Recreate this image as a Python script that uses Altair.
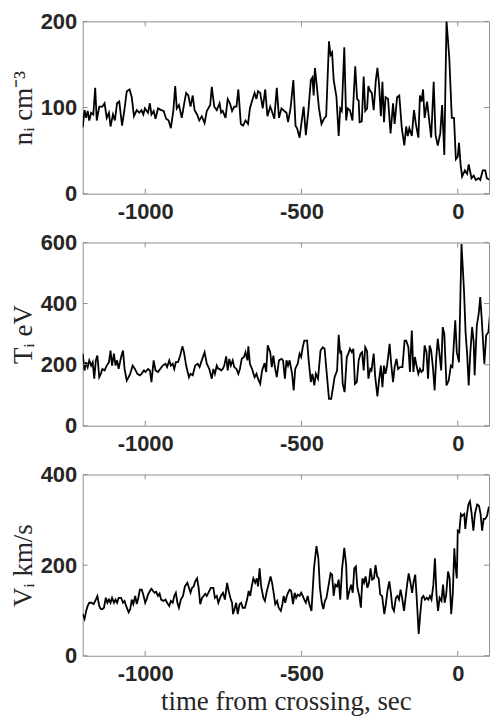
import altair as alt
import pandas as pd

# ---------------- data ----------------
t_n = [-1200,-1194,-1189,-1184,-1179,-1173,-1166,-1160,-1155,-1147,-1137,-1130,-1123,-1116,-1111,-1103,-1097,-1090,-1083,-1074,
       -1067,-1059,-1050,-1043,-1036,-1027,-1019,-1012,-1006,-1001,-991,-985,-980,-973,-967,-959,-949,-941,-933,-925,
       -918,-910,-904,-899,-892,-883,-876,-869,-862,-855,-848,-842,-834,-827,-819,-810,-803,-792,-787,-779,-771,
       -762,-757,-752,-743,-736,-729,-722,-715,-708,-702,-694,-687,-679,-671,-665,-658,-650,-644,-639,-632,
       -624,-616,-609,-600,-595,-587,-579,-572,-564,-555,-548,-543,-535,-526,-519,-514,-506,-499,-493,-486,
       -478,-470,-465,-461,-457,-451,-444,-436,-428,-421,-412,-407,-402,-397,-388,-381,-376,-371,-363,-357,-352,-345,
       -337,-328,-322,-317,-314,-307,-301,-296,-290,-286,-280,-275,-269,-262,-257,-252,-246,-241,-236,-231,
       -223,-215,-207,-202,-194,-187,-179,-171,-165,-160,-155,-147,-140,-134,-126,-121,-116,-111,-106,-98,
       -92,-85,-77,-71,-64,-56,-50,-43,-36,-27,-19,-12,-6,0,4,9,14,23,30,35,44,51,58,67,72,80,88,93,103]
n_i = [77,97,88,96,85,94,92,123,85,101,101,105,88,94,78,92,85,105,107,79,
       96,119,121,112,90,97,94,97,92,99,94,105,92,96,87,99,97,96,87,85,
       76,96,125,99,103,88,103,117,114,101,114,97,92,85,90,82,96,103,124,101,97,
       105,94,96,88,110,105,96,101,101,121,81,79,85,81,99,108,117,110,119,117,
       99,121,90,101,96,87,123,88,99,96,94,83,99,132,79,76,65,85,101,68,
       96,132,135,114,146,125,99,81,87,90,177,161,164,132,112,67,99,96,170,85,99,97,
       85,148,110,108,83,84,136,96,99,125,119,117,97,132,146,128,90,130,83,112,
       110,70,105,81,112,114,76,56,78,67,76,67,97,81,65,114,107,121,88,107,
       87,65,130,68,56,70,103,45,201,157,88,88,40,43,59,34,20,27,23,34,18,21,16,18,16,27,27,18,16]

t_T = [-1200,-1194,-1189,-1184,-1179,-1173,-1168,-1163,-1158,-1153,-1147,-1142,-1137,-1130,-1123,-1116,-1111,-1106,-1100,-1095,
       -1090,-1085,-1077,-1071,-1066,-1059,-1053,-1048,-1040,-1033,-1025,-1017,-1012,-1004,-999,-991,-985,-980,-973,-967,
       -959,-952,-944,-935,-930,-923,-918,-912,-907,-902,-895,-888,-881,-876,-869,-860,-855,-848,-840,-832,
       -826,-819,-810,-803,-795,-787,-782,-777,-771,-766,
       -762,-757,-752,-747,-741,-736,-731,-726,-720,-715,-708,-702,-697,-691,-684,-679,-673,-670,-665,-658,
       -650,-644,-639,-632,-626,-618,-613,-608,-600,-595,-590,-585,-579,-572,-564,-559,-553,-548,-543,-538,
       -530,-525,-520,-512,-506,-501,-496,-491,-482,-477,-470,-465,-459,-454,-447,-439,-432,-426,-420,-412,
       -405,-399,-394,-386,-381,-376,-373,-368,-362,-355,-350,-345,-339,-334,-329,
       -323,-317,-311,-306,-301,-296,-290,-286,-280,-276,-269,-264,-257,-252,-246,-241,-236,-231,-226,-218,
       -213,-207,-202,-196,-191,-184,-177,-170,-165,-158,-153,-147,-142,-137,-132,-126,-121,-116,-111,-106,
       -100,-95,-90,-85,-79,-74,-69,-64,-59,-53,-48,-43,-36,-29,-22,-17,-8,-3,4,12,
       20,25,30,35,40,46,51,54,61,67,72,77,85,91,98,103]
T_i = [236,181,208,192,214,197,208,154,214,230,159,170,186,181,197,208,246,197,236,197,
       214,186,225,246,186,148,159,170,197,186,170,165,170,181,176,186,181,143,214,181,
       176,186,197,203,192,214,197,203,186,208,208,230,260,241,197,159,170,165,197,203,
       192,214,241,203,186,154,186,170,197,186,
       186,181,186,197,227,181,219,197,214,192,186,170,186,219,225,241,214,260,203,186,
       159,170,154,137,181,205,176,263,241,192,230,192,159,214,219,214,154,214,197,214,
       170,116,186,203,236,225,257,279,279,214,143,170,132,170,154,246,257,252,181,88,
       88,126,159,181,298,236,246,137,110,225,236,252,241,252,137,
       143,214,236,241,181,257,244,154,186,181,236,159,96,148,197,126,197,170,197,268,
       203,143,192,219,186,192,192,279,279,257,176,312,176,225,197,170,186,176,181,263,
       241,154,263,246,186,116,219,285,241,181,323,301,132,148,197,192,345,241,208,595,
       443,306,236,132,236,323,274,165,328,366,421,345,203,296,306,366]

t_V = [-1200,-1194,-1189,-1184,-1179,-1171,-1165,-1158,-1153,-1147,-1142,-1137,-1132,-1126,-1121,-1116,-1111,-1106,-1100,-1095,
       -1090,-1085,-1077,-1071,-1066,-1061,-1053,-1048,-1043,-1038,-1032,-1027,-1022,-1017,-1011,-1006,-1000,-996,-991,-985,
       -980,-975,-970,-965,-959,-954,-949,-942,-935,-930,-923,-918,-912,-907,-902,-897,-892,-886,-879,-873,
       -865,-860,-855,-850,-845,-840,-834,-829,-824,-818,-813,-808,-803,-798,-790,-782,-777,-771,-766,-758,
       -751,-745,-738,-733,-726,-722,-719,-714,-709,-704,-698,-693,-688,-681,-674,-669,-664,-660,-654,-648,
       -643,-639,-634,-629,-622,-617,-612,-604,-599,-594,-589,-584,-578,-573,-566,-561,-557,-552,-547,
       -543,-538,-533,-527,-522,-517,-512,-506,-501,-496,-491,-486,-480,-475,-468,-460,-452,-446,-441,-435,
       -430,-425,-420,-412,-407,-402,-397,-392,-386,-381,-376,-370,-363,-357,-353,-347,-341,-336,-331,-326,
       -321,-315,-310,-305,-300,-295,-289,-284,-279,-274,-268,-263,-258,-253,-248,-242,-235,-230,-225,-219,
       -214,-209,-204,-198,-193,-188,-183,-178,-172,-167,-162,-157,-152,-146,-141,-136,-131,-125,-120,-115,
       -110,-105,-99,-94,-89,-84,-78,-73,-68,-63,-58,-52,-47,-42,-37,-31,-26,-21,-16,-11,
       -8,-3,0,5,10,15,21,24,29,34,39,44,50,55,62,68,73,78,83,88,94,99,104]
V_i = [92,81,99,110,117,117,114,124,132,110,103,103,106,128,117,124,117,128,117,124,
       117,128,128,117,121,110,96,103,124,114,132,114,128,146,146,135,117,124,135,143,
       148,143,139,141,132,137,124,121,124,117,110,121,117,132,139,117,106,124,132,153,
       161,150,139,150,153,164,171,150,114,128,132,137,132,139,150,150,128,132,117,132,
       139,124,161,143,124,117,92,103,117,92,114,117,106,106,124,143,132,150,171,161,
       171,153,193,153,128,121,139,161,175,161,139,114,121,106,99,114,132,117,132,
       139,146,143,114,139,128,135,132,139,132,124,117,132,114,99,193,242,215,150,117,
       103,121,128,161,182,179,132,157,153,168,124,193,238,200,124,143,157,139,193,197,
       150,132,106,171,161,175,150,161,193,168,171,200,175,171,135,132,92,114,143,164,
       139,106,99,128,132,124,146,128,99,128,157,182,164,139,164,179,124,48,92,128,
       132,124,128,124,132,124,157,215,135,99,128,121,157,117,135,186,171,92,135,237,
       204,171,276,273,313,309,313,280,309,334,341,316,276,313,334,331,313,276,302,302,309,327,331]

x_ticks = [-1000, -500, 0]
n_ticks = [0, 100, 200]
T_ticks = [0, 200, 400, 600]
V_ticks = [0, 200, 400]

# ---------------- styling ----------------
W = 408
FRAME = "#8f8f8f"
INK = "#262626"
SANS = "Liberation Sans"
SERIF = "Liberation Serif"


def panel(times, vals, ymax, yticks, ytitle, h, xtitle=None):
    df = pd.DataFrame({"t": times, "v": vals})
    xs = alt.Scale(domain=[-1200, 100], nice=False, zero=False)
    ys = alt.Scale(domain=[0, ymax], nice=False)
    xaxis = alt.Axis(values=x_ticks, labelExpr="'' + datum.value", title=xtitle)
    line = alt.Chart(df).mark_line(color="black", strokeWidth=1.8, clip=True).encode(
        x=alt.X("t:Q", scale=xs, axis=xaxis),
        y=alt.Y("v:Q", scale=ys, axis=alt.Axis(values=yticks, title=ytitle)),
    )
    xt = pd.DataFrame({"t": x_ticks})
    yt = pd.DataFrame({"v": yticks})
    bt = alt.Chart(xt).mark_rule(color=FRAME, strokeWidth=1).encode(
        x="t:Q", y=alt.value(h), y2=alt.value(h - 5))
    tt = alt.Chart(xt).mark_rule(color=FRAME, strokeWidth=1).encode(
        x="t:Q", y=alt.value(0), y2=alt.value(5))
    lt = alt.Chart(yt).mark_rule(color=FRAME, strokeWidth=1).encode(
        y="v:Q", x=alt.value(0), x2=alt.value(5))
    rt = alt.Chart(yt).mark_rule(color=FRAME, strokeWidth=1).encode(
        y="v:Q", x=alt.value(W), x2=alt.value(W - 5))
    return alt.layer(line, bt, tt, lt, rt).properties(width=W, height=h)


p1 = panel(t_n, n_i, 200, n_ticks, "nᵢ cm⁻³", 173)
p2 = panel(t_T, T_i, 600, T_ticks, "Tᵢ eV", 184)
p3 = panel(t_V, V_i, 400, V_ticks, "Vᵢ km/s", 182, xtitle="time from crossing, sec")

chart = alt.vconcat(p1, p2, p3, spacing=49, bounds="flush").properties(
    padding={"left": 0, "top": 0, "right": 0, "bottom": 0}
).configure_view(
    stroke=FRAME, strokeWidth=1
).configure_axis(
    domain=False, ticks=False, grid=False,
    labelFont=SANS, labelFontSize=22, labelFontWeight="bold", labelColor=INK,
    labelPadding=6,
    titleFont=SERIF, titleFontSize=27, titleFontWeight="normal", titleColor=INK,
    titlePadding=3,
).configure_axisX(labelPadding=8, titlePadding=4)

chart.save("out.html", embed_options={"renderer": "svg", "actions": False})
